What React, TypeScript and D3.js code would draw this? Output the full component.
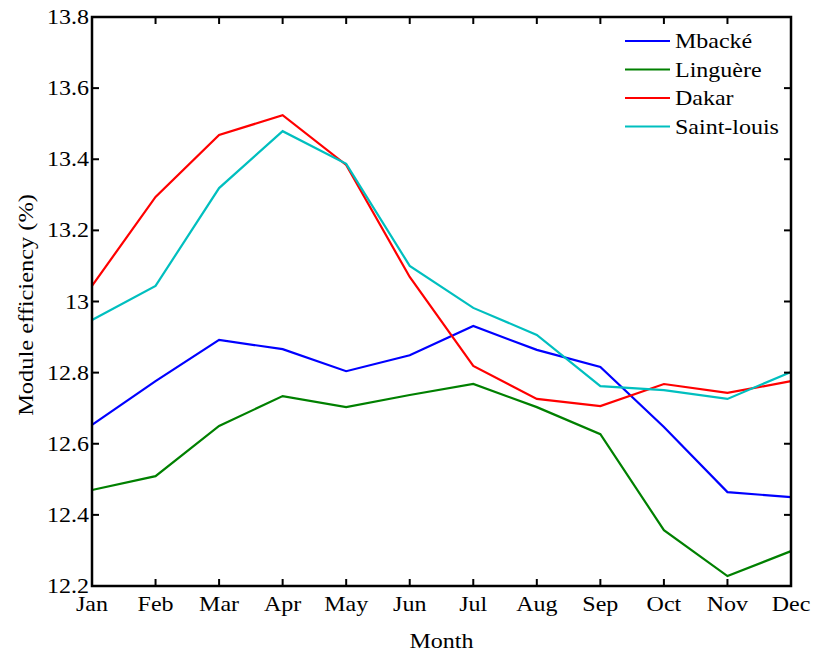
import React, { useRef, useEffect } from 'react';
import * as d3 from 'd3';

const months = ['Jan', 'Feb', 'Mar', 'Apr', 'May', 'Jun', 'Jul', 'Aug', 'Sep', 'Oct', 'Nov', 'Dec'];
const stations = ['Mbacké', 'Linguère', 'Dakar', 'Saint-louis'];
const mbacke = [12.653, 12.776, 12.892, 12.866, 12.804, 12.849, 12.931, 12.864, 12.816, 12.647, 12.464, 12.45];
const linguere = [12.47, 12.509, 12.65, 12.734, 12.703, 12.737, 12.768, 12.703, 12.627, 12.357, 12.228, 12.298];
const dakar = [13.044, 13.294, 13.468, 13.524, 13.384, 13.069, 12.819, 12.726, 12.706, 12.768, 12.743, 12.776];
const saintLouis = [12.948, 13.044, 13.319, 13.479, 13.387, 13.1, 12.982, 12.906, 12.762, 12.751, 12.726, 12.802];
const yTicks = [12.2, 12.4, 12.6, 12.8, 13, 13.2, 13.4, 13.6, 13.8];

const seriesValues = [mbacke, linguere, dakar, saintLouis];
const colors = ['#0000ff', '#008000', '#ff0000', '#00bfbf'];

const W = 818;
const H = 654;
const margin = { top: 17, right: 27, bottom: 68, left: 92 };
const FONT = '"Liberation Serif"';
const SX = 1.2; // the reference text looks stretched horizontally

const App = () => {
  const ref = useRef<SVGSVGElement>(null);

  useEffect(() => {
    const svg = d3.select(ref.current);
    svg.selectAll('*').remove();

    const x = d3.scalePoint<string>().domain(months).range([margin.left, W - margin.right]);
    const y = d3.scaleLinear().domain([12.2, 13.8]).range([H - margin.bottom, margin.top]);
    const x0 = margin.left, x1 = W - margin.right, y0 = H - margin.bottom, y1 = margin.top;

    const line = d3.line<number>()
      .x((_, i) => x(months[i]) as number)
      .y(d => y(d));

    const g = svg.append('g');

    const label = (sel: any) => sel
      .style('font-family', FONT)
      .style('font-size', '20px')
      .attr('fill', '#000');

    seriesValues.forEach((vals, i) => {
      g.append('path')
        .attr('d', line(vals))
        .attr('fill', 'none')
        .attr('stroke', colors[i])
        .attr('stroke-width', 2.2);
    });

    const tickLen = 7;
    // inward ticks on all four sides
    months.forEach(m => {
      const px = x(m) as number;
      g.append('line').attr('x1', px).attr('x2', px).attr('y1', y0).attr('y2', y0 - tickLen)
        .attr('stroke', '#000').attr('stroke-width', 2);
      g.append('line').attr('x1', px).attr('x2', px).attr('y1', y1).attr('y2', y1 + tickLen)
        .attr('stroke', '#000').attr('stroke-width', 2);
      g.append('text')
        .attr('transform', `translate(${px},611) scale(${SX},1)`)
        .attr('text-anchor', 'middle')
        .call(label)
        .text(m);
    });

    yTicks.forEach(t => {
      const py = y(t);
      g.append('line').attr('x1', x0).attr('x2', x0 + tickLen).attr('y1', py).attr('y2', py)
        .attr('stroke', '#000').attr('stroke-width', 2);
      g.append('line').attr('x1', x1).attr('x2', x1 - tickLen).attr('y1', py).attr('y2', py)
        .attr('stroke', '#000').attr('stroke-width', 2);
      g.append('text')
        .attr('transform', `translate(${x0 - 3},${py + 7}) scale(${SX},1)`)
        .attr('text-anchor', 'end')
        .call(label)
        .text(d3.format('~g')(t));
    });

    g.append('rect')
      .attr('x', x0).attr('y', y1)
      .attr('width', x1 - x0).attr('height', y0 - y1)
      .attr('fill', 'none').attr('stroke', '#000').attr('stroke-width', 2.5);

    g.append('text')
      .attr('transform', `translate(${(x0 + x1) / 2},648) scale(${SX},1)`)
      .attr('text-anchor', 'middle')
      .call(label)
      .text('Month');

    g.append('text')
      .attr('transform', `translate(33,305) rotate(-90) scale(1.22,1.05)`)
      .attr('text-anchor', 'middle')
      .call(label)
      .text('Module efficiency (%)');

    const leg = g.append('g');
    stations.forEach((s, i) => {
      const ly = 41 + i * 28.5;
      leg.append('line').attr('x1', 625).attr('x2', 670).attr('y1', ly).attr('y2', ly)
        .attr('stroke', colors[i]).attr('stroke-width', 2.2);
      leg.append('text')
        .attr('transform', `translate(675,${ly + 7}) scale(${SX},1)`)
        .call(label)
        .text(s);
    });
  }, []);

  return (
    <>
      <style>{`body { margin: 0; background: #fff; }`}</style>
      <svg ref={ref} width={W} height={H} style={{ display: 'block' }} />
    </>
  );
};

export default App;
